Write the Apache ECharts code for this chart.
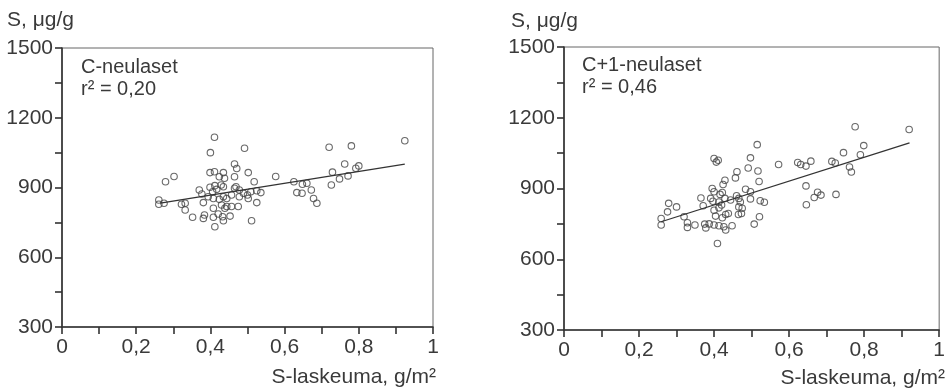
<!DOCTYPE html>
<html>
<head>
<meta charset="utf-8">
<script src="https://cdn.jsdelivr.net/npm/echarts@6/dist/echarts.min.js"></script>
<style>html,body{margin:0;padding:0;background:#fff}#c{width:948px;height:389px}</style>
</head>
<body>
<div id="c"></div>
<script>
// ---- data ----
const leftPoints = [
  [0.261,846],[0.261,828],[0.275,832],[0.279,925],[0.302,947],[0.322,828],[0.332,832],[0.332,803],
  [0.400,1050],[0.411,1116],[0.492,1069],[0.576,947],[0.625,925],[0.633,878],[0.647,875],[0.648,914],
  [0.660,918],[0.672,889],[0.678,853],[0.687,832],[0.720,1073],[0.726,911],[0.729,966],[0.748,937],
  [0.762,1001],[0.771,950],[0.780,1079],[0.792,983],[0.800,993],[0.924,1101],
  [0.465,1001],[0.471,982],[0.399,964],[0.411,968],[0.435,964],[0.424,946],[0.438,940],[0.465,946],
  [0.502,964],[0.518,925],[0.370,889],[0.377,872],[0.381,835],[0.399,901],[0.406,882],[0.417,892],
  [0.412,908],[0.429,911],[0.435,903],[0.465,897],[0.469,903],[0.478,889],[0.489,875],[0.500,868],
  [0.509,882],[0.525,886],[0.536,878],[0.394,860],[0.408,853],[0.424,849],[0.435,860],[0.444,853],
  [0.457,868],[0.478,860],[0.502,853],[0.525,835],[0.408,811],[0.430,825],[0.439,811],[0.444,818],
  [0.457,818],[0.475,818],[0.352,772],[0.381,767],[0.384,782],[0.408,772],[0.421,786],[0.433,774],
  [0.435,757],[0.453,777],[0.412,731],[0.511,757]
];
const leftFit = [[0.265,833],[0.924,1001]];

const rightPoints = [
  [0.259,773],[0.259,745],[0.276,801],[0.279,837],[0.300,822],[0.320,780],[0.329,755],[0.329,735],
  [0.349,745],[0.375,749],[0.378,733],[0.387,750],[0.365,860],[0.371,827],
  [0.400,1027],[0.411,1020],[0.406,1012],[0.461,971],[0.457,945],[0.491,987],[0.429,935],[0.424,917],
  [0.395,900],[0.400,886],[0.416,875],[0.422,883],[0.391,858],[0.397,846],[0.413,843],[0.420,830],
  [0.429,858],[0.444,851],[0.460,869],[0.466,858],[0.470,843],[0.466,822],[0.475,816],[0.473,794],
  [0.465,790],[0.400,808],[0.413,818],[0.431,790],[0.438,794],[0.404,783],[0.422,776],[0.400,745],
  [0.413,742],[0.426,738],[0.431,724],[0.448,742],[0.409,667],
  [0.497,1030],[0.484,897],[0.497,886],[0.497,856],[0.515,1086],[0.517,974],[0.520,930],[0.523,848],
  [0.534,842],[0.521,780],[0.507,749],
  [0.572,1002],[0.623,1010],[0.631,1002],[0.645,995],[0.658,1016],[0.645,911],[0.646,831],[0.667,862],
  [0.676,884],[0.685,872],[0.714,1015],[0.723,1008],[0.725,875],[0.745,1052],[0.761,991],[0.766,970],
  [0.776,1162],[0.790,1043],[0.799,1082],[0.920,1150]
];
const rightFit = [[0.259,759],[0.921,1093]];

const yTitle = 'S, μg/g';
const xTitle = 'S-laskeuma, g/m²';
const leftLabel = ['C-neulaset', 'r² = 0,20'];
const rightLabel = ['C+1-neulaset', 'r² = 0,46'];

// ---- chart ----
const TXT = '#3a3a3a';
const FONT = 'Liberation Sans, Arial, sans-serif';

function xAxis(idx) {
  return {
    type: 'value', gridIndex: idx, min: 0, max: 1, interval: 0.1,
    axisLine: { show: true, onZero: false, lineStyle: { color: '#333', width: 1.6 } },
    axisTick: { show: true, length: 7, lineStyle: { color: '#333', width: 1.6 } },
    axisLabel: {
      margin: 10, fontSize: 21, color: TXT, fontFamily: FONT,
      formatter: v => { const k = Math.round(v * 10); return k % 2 === 0 ? String(k / 10).replace('.', ',') : ''; }
    },
    splitLine: { show: false }
  };
}
function yAxis(idx) {
  return {
    type: 'value', gridIndex: idx, min: 300, max: 1500, interval: 150,
    axisLine: { show: true, onZero: false, lineStyle: { color: '#333', width: 1.6 } },
    axisTick: { show: true, length: 7, lineStyle: { color: '#333', width: 1.6 } },
    axisLabel: {
      margin: 9, fontSize: 21, color: TXT, fontFamily: FONT,
      formatter: v => (Math.round(v) % 300 === 0 ? String(Math.round(v)) : '')
    },
    splitLine: { show: false }
  };
}
function scatter(idx, data) {
  return {
    type: 'scatter', xAxisIndex: idx, yAxisIndex: idx, data: data,
    symbol: 'circle', symbolSize: 6.5,
    itemStyle: { color: 'rgba(255,255,255,0)', borderColor: '#444', borderWidth: 1.1 },
    silent: true, z: 3
  };
}
function fit(idx, data) {
  return {
    type: 'line', xAxisIndex: idx, yAxisIndex: idx, data: data,
    showSymbol: false, symbol: 'none', silent: true,
    lineStyle: { color: '#333', width: 1.3 }, z: 4
  };
}
function txt(x, y, s, size, align) {
  return { type: 'text', x: x, y: y,
    style: { text: s, fill: TXT, font: size + 'px ' + FONT, textAlign: align || 'left', textVerticalAlign: 'middle' } };
}

const chart = echarts.init(document.getElementById('c'), null, { renderer: 'canvas' });
chart.setOption({
  animation: false,
  backgroundColor: '#fff',
  grid: [
    { left: 62, top: 48, width: 371, height: 279, show: true, borderColor: '#666', borderWidth: 1 },
    { left: 564, top: 47, width: 378, height: 283, show: true, borderColor: '#666', borderWidth: 1 }
  ],
  xAxis: [xAxis(0), xAxis(1)],
  yAxis: [yAxis(0), yAxis(1)],
  series: [scatter(0, leftPoints), fit(0, leftFit), scatter(1, rightPoints), fit(1, rightFit)],
  graphic: [
    txt(7, 20, yTitle, 21),
    txt(511, 21, yTitle, 21),
    txt(436, 377, xTitle, 21, 'right'),
    txt(945, 378, xTitle, 21, 'right'),
    txt(81, 67, leftLabel[0], 20),
    txt(81, 89, leftLabel[1], 20),
    txt(582, 65, rightLabel[0], 20),
    txt(582, 87, rightLabel[1], 20)
  ]
});
</script>
</body>
</html>
